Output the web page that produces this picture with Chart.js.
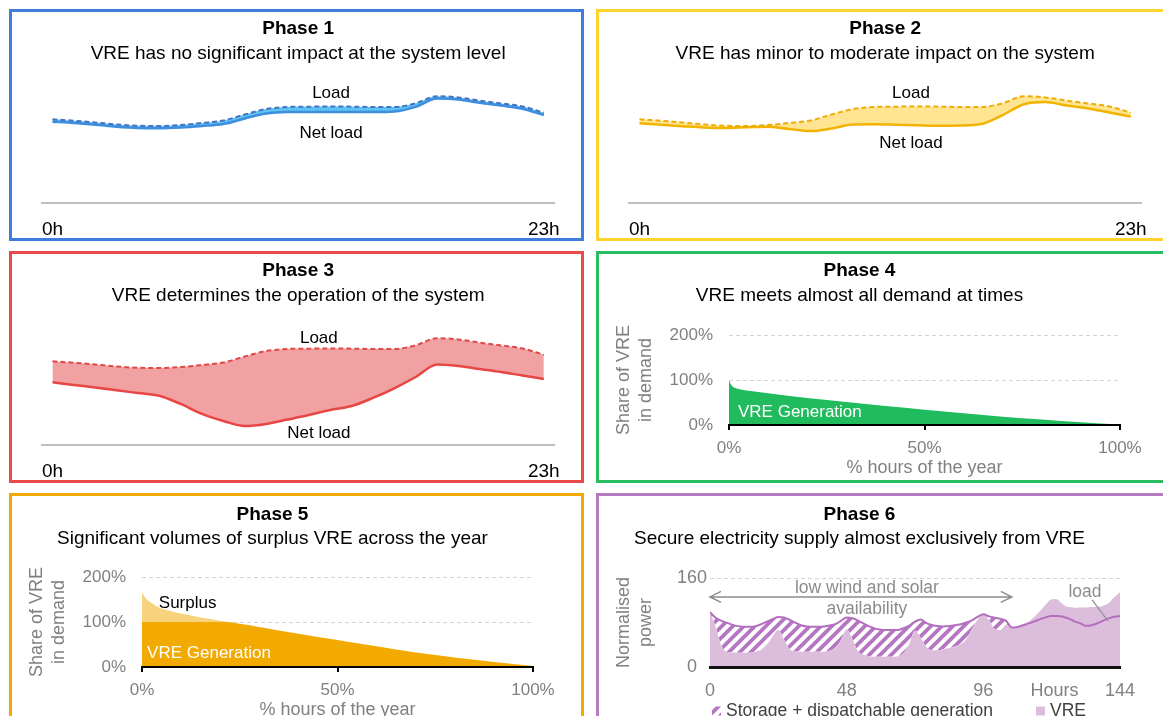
<!DOCTYPE html>
<html><head><meta charset="utf-8">
<script src="https://cdn.jsdelivr.net/npm/chart.js@4/dist/chart.umd.min.js"></script>
<style>
html,body{margin:0;padding:0;overflow:hidden;background:#fff;width:1163px;height:716px;}
.panel{position:absolute;width:575px;height:232px;border:3px solid;box-sizing:border-box;}
.panel canvas{position:absolute;left:0;top:0;}
</style></head><body>
<div class="panel" style="left:9px;top:9px;border-color:#3E7EDA"><canvas id="c1" width="569" height="226"></canvas></div>
<div class="panel" style="left:596px;top:9px;border-color:#FFD22E"><canvas id="c2" width="569" height="226"></canvas></div>
<div class="panel" style="left:9px;top:251px;border-color:#E84A4A"><canvas id="c3" width="569" height="226"></canvas></div>
<div class="panel" style="left:596px;top:251px;border-color:#27BE5F"><canvas id="c4" width="569" height="226"></canvas></div>
<div class="panel" style="left:9px;top:493px;border-color:#F2A900"><canvas id="c5" width="569" height="226"></canvas></div>
<div class="panel" style="left:596px;top:493px;border-color:#B67BC0"><canvas id="c6" width="569" height="233"></canvas></div>
<script>
// ---------- data ----------
const hours = [0,1,2,3,4,5,6,7,8,9,10,11,12,13,14,15,16,17,18,19,20,21,22,23];
const dayTicks = [0, 23];
const dayTickLabels = ['0h', '23h'];
const dailyLoad = [77.9,76.6,75.0,73.1,71.9,71.7,72.6,74.5,76.8,82.4,87.5,89.4,89.7,89.9,89.7,89.4,89.4,92.8,99.5,98.3,95.3,92.7,89.9,84.1];
const netLoad1 = [75.7,74.5,72.9,71.0,69.8,69.6,70.3,71.7,73.5,78.7,83.3,84.7,84.8,84.8,84.8,84.7,85.2,89.5,97.2,96.3,93.3,90.7,87.8,82.0];
const netLoad2 = [74.2,72.8,71.5,70.3,69.8,70.5,71.1,68.9,67.0,69.4,73.1,73.3,72.9,72.4,72.0,72.2,73.6,81.9,92.0,94.0,90.8,88.0,84.3,80.4];
const netLoad3 = [58.4,55.9,53.5,50.9,48.4,45.9,38.2,28.9,22.4,17.7,19.6,23.7,27.9,32.6,36.3,43.8,52.8,63.3,75.0,73.6,70.8,68.0,64.7,61.5];

const pctHours4 = [0,0.5,1,2,3,5,10,20,30,40,50,60,70,80,90,100];
const vreShare4 = [100,90,85,81,79,76,70.5,60,51,42,34,26,18.5,12,6,1];

const pctHours5 = [0,1,2,3,5,7.5,10,15,20,22,25,30,40,50,60,70,80,90,100];
const vreTotal5 = [166,152,145,139,130,124,119,110,103,100,96,89,74,60,46,32,21,11,2];
const vreUsed5  = [100,100,100,100,100,100,100,100,100,100,96,89,74,60,46,32,21,11,2];

const pctTicks = [0, 50, 100];
const pctTickLabels = ['0%', '50%', '100%'];
const shareTicks = [0, 100, 200];
const shareTickLabels = ['0%', '100%', '200%'];

const hours6 = [0,2,4,6,8,10,12,14,16,18,20,22,24,26,28,30,32,34,36,38,40,42,44,46,48,50,52,54,56,58,60,62,64,66,68,70,72,74,76,78,80,82,84,86,88,90,92,94,96,98,100,102,104,106,108,110,112,114,116,118,120,122,124,126,128,130,132,134,136,138,140,142,144];
const load6 = [98.4,88.5,83,79.5,75.8,73.5,72.5,72.5,73.5,77,81.7,86,90,89,84.5,79.5,75,73,72.5,72.5,73,74.5,77,83,89,87.5,83.5,78,73,69,67,66.5,66.5,66.5,70,74.5,81.5,85.5,79,75.5,73.5,73,73.5,75,77,80,84,90,95,91,88.5,86.5,83,71,72,75,78.5,82,86,89.5,91.5,91.5,90.5,87,82,78.6,74,75,78.6,83,87.5,90.5,91.7];
const vre6 = [97.5,72,38,27,26,25.8,25.8,25.8,27.5,31,40,55,67,49,32,28.5,27.5,27.5,27.5,27.5,27.5,29,34,48,68,50,28,22,19.5,18.5,18.5,18.5,18.5,19.5,25,42,65,52,36,30,30,32,34,37,41,50,68,85,93.5,84,68,66.5,76,71,73,77,82,91,101,113,122,121,112,107.5,106.5,106.5,107,108,108.5,109.5,114,125,134];
const hourTicks6 = [0, 48, 96, 121, 144];
const hourTickLabels6 = ['0', '48', '96', 'Hours', '144'];
const powerTicks6 = [0, 160];
const powerTickLabels6 = ['0', '160'];

// ---------- helpers ----------
const FONT = '"Liberation Sans", Arial, Helvetica, sans-serif';
Chart.defaults.font.family = FONT;
const GRAY = '#808080';
const pts = (xs, ys) => xs.map((x, i) => ({x: x, y: ys[i]}));

function makeHatch(color) {
  const s = 11;
  const c = document.createElement('canvas'); c.width = s; c.height = s;
  const g = c.getContext('2d');
  g.strokeStyle = color; g.lineWidth = 3.8; g.lineCap = 'square';
  g.beginPath();
  g.moveTo(-s, s); g.lineTo(s, -s);
  g.moveTo(0, 2*s); g.lineTo(2*s, 0);
  g.moveTo(-s/2, 1.5*s); g.lineTo(1.5*s, -s/2);
  g.stroke();
  return g.createPattern(c, 'repeat');
}

const notesPlugin = {
  id: 'notes',
  afterDraw(chart, args, opts) {
    const ctx = chart.ctx, xs = chart.scales.x, ys = chart.scales.y;
    const X = v => xs.getPixelForValue(v), Y = v => ys.getPixelForValue(v);
    (opts.items || []).forEach(it => {
      ctx.save();
      if (it.type === 'text') {
        ctx.font = (it.weight || 'normal') + ' ' + it.size + 'px ' + FONT;
        ctx.fillStyle = it.color; ctx.textAlign = it.align || 'center'; ctx.textBaseline = 'middle';
        ctx.fillText(it.text, X(it.x), Y(it.y));
      } else if (it.type === 'line') {
        ctx.strokeStyle = it.color; ctx.lineWidth = it.width;
        ctx.beginPath(); ctx.moveTo(X(it.x1), Y(it.y1)); ctx.lineTo(X(it.x2), Y(it.y2)); ctx.stroke();
      } else if (it.type === 'arrow') {
        const x1 = X(it.x1), x2 = X(it.x2), y = Y(it.y), h = it.head;
        ctx.strokeStyle = it.color; ctx.lineWidth = it.width;
        ctx.beginPath(); ctx.moveTo(x1, y); ctx.lineTo(x2, y);
        ctx.moveTo(x1 + h, y - h * 0.5); ctx.lineTo(x1, y); ctx.lineTo(x1 + h, y + h * 0.5);
        ctx.moveTo(x2 - h, y - h * 0.5); ctx.lineTo(x2, y); ctx.lineTo(x2 - h, y + h * 0.5);
        ctx.stroke();
      }
      ctx.restore();
    });
    if (opts.legend) {
      const L = chart.chartArea.left, yb = chart.chartArea.bottom + opts.legend.dy;
      opts.legend.items.forEach(it => {
        ctx.save();
        ctx.fillStyle = it.fill; ctx.fillRect(L + it.dx, yb - 4.5, 9, 9);
        ctx.fillStyle = '#404040'; ctx.font = '17.5px ' + FONT;
        ctx.textAlign = 'left'; ctx.textBaseline = 'middle';
        ctx.fillText(it.text, L + it.dx + 14, yb);
        ctx.restore();
      });
    }
  }
};

// title + subtitle; font line height 1.1 (20.9px)
function titles(t, s, pt1, pt2, pb) {
  return {
    title: {display: true, text: t, color: '#000', font: {size: 19, weight: 'bold', lineHeight: 1.1}, padding: {top: pt1, bottom: 0}},
    subtitle: {display: true, text: s, color: '#000', font: {size: 19, lineHeight: 1.1}, padding: {top: pt2, bottom: pb}}
  };
}

// ---------- Phases 1-3 ----------
function dayChart(id, title, sub, net, col, notes) {
  const t = titles(title, sub, 6.55, 4.1, 0);
  return new Chart(document.getElementById(id), {
    type: 'line',
    plugins: [notesPlugin],
    data: {datasets: [
      {label: 'Load', data: pts(hours, dailyLoad), borderColor: col.dash, borderWidth: 2, borderDash: [5, 3],
       pointRadius: 0, fill: false, cubicInterpolationMode: 'monotone'},
      {label: 'Net load', data: pts(hours, net), borderColor: col.line, borderWidth: 2.5, pointRadius: 0,
       fill: '-1', backgroundColor: col.fill, cubicInterpolationMode: 'monotone'}
    ]},
    options: {
      responsive: false, animation: false, devicePixelRatio: 1, events: [],
      layout: {padding: {left: 29.8, right: 26.5, top: 0, bottom: 0}},
      plugins: {legend: {display: false}, tooltip: {enabled: false}, title: t.title, subtitle: t.subtitle,
        notes: {items: notes}},
      scales: {
        x: {type: 'linear', min: -0.5, max: 23.5,
            afterBuildTicks: s => { s.ticks = dayTicks.map(v => ({value: v})); },
            afterFit: s => { s.height = 35; },
            ticks: {autoSkip: false, maxRotation: 0, color: '#000', font: {size: 19}, padding: 15.6,
                    callback: (v, i) => dayTickLabels[i]},
            grid: {display: false, drawTicks: false},
            border: {display: true, color: '#BFBFBF', width: 2}},
        y: {display: false, min: 0, max: 129}
      }
    }
  });
}

dayChart('c1', 'Phase 1', 'VRE has no significant impact at the system level', netLoad1,
  {dash: '#4472C4', line: '#3E8EDE', fill: '#5DC3F2'},
  [{type: 'text', text: 'Load', x: 13.04, y: 102.5, size: 17, color: '#000'},
   {type: 'text', text: 'Net load', x: 13.04, y: 65.2, size: 17, color: '#000'}]);
dayChart('c2', 'Phase 2', 'VRE has minor to moderate impact on the system', netLoad2,
  {dash: '#F0AC00', line: '#F2B300', fill: '#FFE592'},
  [{type: 'text', text: 'Load', x: 12.71, y: 102.5, size: 17, color: '#000'},
   {type: 'text', text: 'Net load', x: 12.71, y: 55.9, size: 17, color: '#000'}]);
dayChart('c3', 'Phase 3', 'VRE determines the operation of the system', netLoad3,
  {dash: '#E04848', line: '#E84545', fill: '#F1A1A1'},
  [{type: 'text', text: 'Load', x: 12.47, y: 99.7, size: 17, color: '#000'},
   {type: 'text', text: 'Net load', x: 12.47, y: 11.2, size: 17, color: '#000'}]);

// ---------- Phases 4-5 ----------
function shareScales() {
  return {
    x: {type: 'linear', min: 0, max: 100,
        afterBuildTicks: s => { s.ticks = pctTicks.map(v => ({value: v})); },
        afterFit: s => { s.height = 55; },
        ticks: {autoSkip: false, maxRotation: 0, color: GRAY, font: {size: 17}, padding: 8.5,
                callback: (v, i) => pctTickLabels[i]},
        grid: {display: true, drawOnChartArea: false, drawTicks: true, tickLength: 5, color: '#000', lineWidth: 2},
        border: {display: true, color: '#000', width: 2, z: 1},
        title: {display: true, text: '% hours of the year', color: GRAY, font: {size: 18}, padding: {top: 0, bottom: 1.5}}},
    y: {min: 0, max: 200,
        afterBuildTicks: s => { s.ticks = shareTicks.map(v => ({value: v})); },
        afterFit: s => { s.width = 130; },
        ticks: {color: GRAY, font: {size: 17}, padding: 16, callback: (v, i) => shareTickLabels[i]},
        grid: {color: '#D4D4D4', lineWidth: 1, drawTicks: false},
        border: {display: false, dash: [4, 3]},
        title: {display: true, text: ['Share of VRE', 'in demand'], color: GRAY, font: {size: 18}, padding: {top: 14.5, bottom: 0}}}
  };
}

(function () {
  const t = titles('Phase 4', 'VRE meets almost all demand at times', 6.55, 4.1, 28.55);
  new Chart(document.getElementById('c4'), {
    type: 'line',
    plugins: [notesPlugin],
    data: {datasets: [
      {label: 'VRE Generation', data: pts(pctHours4, vreShare4), borderWidth: 0, pointRadius: 0,
       fill: 'origin', backgroundColor: '#20BB5C', cubicInterpolationMode: 'monotone'}
    ]},
    options: {
      responsive: false, animation: false, devicePixelRatio: 1, events: [],
      layout: {padding: {left: 0, right: 48, top: 0, bottom: 0}},
      plugins: {legend: {display: false}, tooltip: {enabled: false}, title: t.title, subtitle: t.subtitle,
        notes: {items: [{type: 'text', text: 'VRE Generation', x: 2.3, y: 27.5, size: 17, color: '#fff', align: 'left'}]}},
      scales: shareScales()
    }
  });
})();

(function () {
  const t = titles('Phase 5', 'Significant volumes of surplus VRE across the year', 8.05, 3.1, 28.05);
  new Chart(document.getElementById('c5'), {
    type: 'line',
    plugins: [notesPlugin],
    data: {datasets: [
      {label: 'Surplus', data: pts(pctHours5, vreTotal5), borderWidth: 0, pointRadius: 0,
       fill: '+1', backgroundColor: '#F8D27C', cubicInterpolationMode: 'monotone'},
      {label: 'VRE Generation', data: pts(pctHours5, vreUsed5), borderWidth: 0, pointRadius: 0,
       fill: 'origin', backgroundColor: '#F2A900', cubicInterpolationMode: 'monotone'}
    ]},
    options: {
      responsive: false, animation: false, devicePixelRatio: 1, events: [],
      layout: {padding: {left: 0, right: 48, top: 0, bottom: 0}},
      plugins: {legend: {display: false}, tooltip: {enabled: false}, title: t.title, subtitle: t.subtitle,
        notes: {items: [
          {type: 'text', text: 'Surplus', x: 4.3, y: 140.5, size: 17, color: '#000', align: 'left'},
          {type: 'text', text: 'VRE Generation', x: 1.3, y: 29.5, size: 17, color: '#fff', align: 'left'}]}},
      scales: shareScales()
    }
  });
})();

// ---------- Phase 6 ----------
(function () {
  const hatch = makeHatch('#B577C1');
  const t = titles('Phase 6', 'Secure electricity supply almost exclusively from VRE', 8.05, 3.1, 29.05);
  new Chart(document.getElementById('c6'), {
    type: 'line',
    plugins: [notesPlugin],
    data: {datasets: [
      {label: 'load', data: pts(hours6, load6), borderColor: '#B56FBF', borderWidth: 2, pointRadius: 0,
       fill: {target: '+1', above: hatch, below: 'rgba(0,0,0,0)'}, cubicInterpolationMode: 'monotone'},
      {label: 'VRE', data: pts(hours6, vre6), borderWidth: 0, pointRadius: 0,
       fill: 'origin', backgroundColor: '#DCBDDC', cubicInterpolationMode: 'monotone'}
    ]},
    options: {
      responsive: false, animation: false, devicePixelRatio: 1, events: [],
      layout: {padding: {left: 0, right: 48, top: 0, bottom: 0}},
      plugins: {legend: {display: false}, tooltip: {enabled: false}, title: t.title, subtitle: t.subtitle,
        notes: {
          items: [
            {type: 'arrow', x1: 0, x2: 106, y: 126, color: '#8C8C8C', width: 1.5, head: 11},
            {type: 'text', text: 'low wind and solar', x: 55.1, y: 142.1, size: 17.5, color: '#8C8C8C'},
            {type: 'text', text: 'availability', x: 55.1, y: 104.3, size: 17.5, color: '#8C8C8C'},
            {type: 'text', text: 'load', x: 131.7, y: 134.8, size: 17.5, color: '#8C8C8C'},
            {type: 'line', x1: 134.2, y1: 120.5, x2: 139.8, y2: 82.7, color: '#8C8C8C', width: 1.2}
          ],
          legend: {dy: 44, items: [
            {text: 'Storage + dispatchable generation', fill: hatch, dx: 2},
            {text: 'VRE', fill: '#DCBDDC', dx: 326}
          ]}
        }},
      scales: {
        x: {type: 'linear', min: 0, max: 144,
            afterBuildTicks: s => { s.ticks = hourTicks6.map(v => ({value: v})); },
            afterFit: s => { s.height = 62; },
            ticks: {autoSkip: false, maxRotation: 0, color: GRAY, font: {size: 18}, padding: 13.2,
                    callback: (v, i) => hourTickLabels6[i]},
            grid: {display: false, drawTicks: false},
            border: {display: true, color: '#111', width: 3, z: 1}},
        y: {min: 0, max: 160,
            afterBuildTicks: s => { s.ticks = powerTicks6.map(v => ({value: v})); },
            afterFit: s => { s.width = 111; },
            ticks: {color: GRAY, font: {size: 18}, padding: 3, crossAlign: 'center', callback: (v, i) => powerTickLabels6[i]},
            grid: {color: '#D4D4D4', lineWidth: 1, drawTicks: false},
            border: {display: false, dash: [4, 3]},
            title: {display: true, text: ['Normalised', 'power'], color: GRAY, font: {size: 18}, padding: {top: 14.5, bottom: 0}}}
      }
    }
  });
})();
</script>
</body></html>
